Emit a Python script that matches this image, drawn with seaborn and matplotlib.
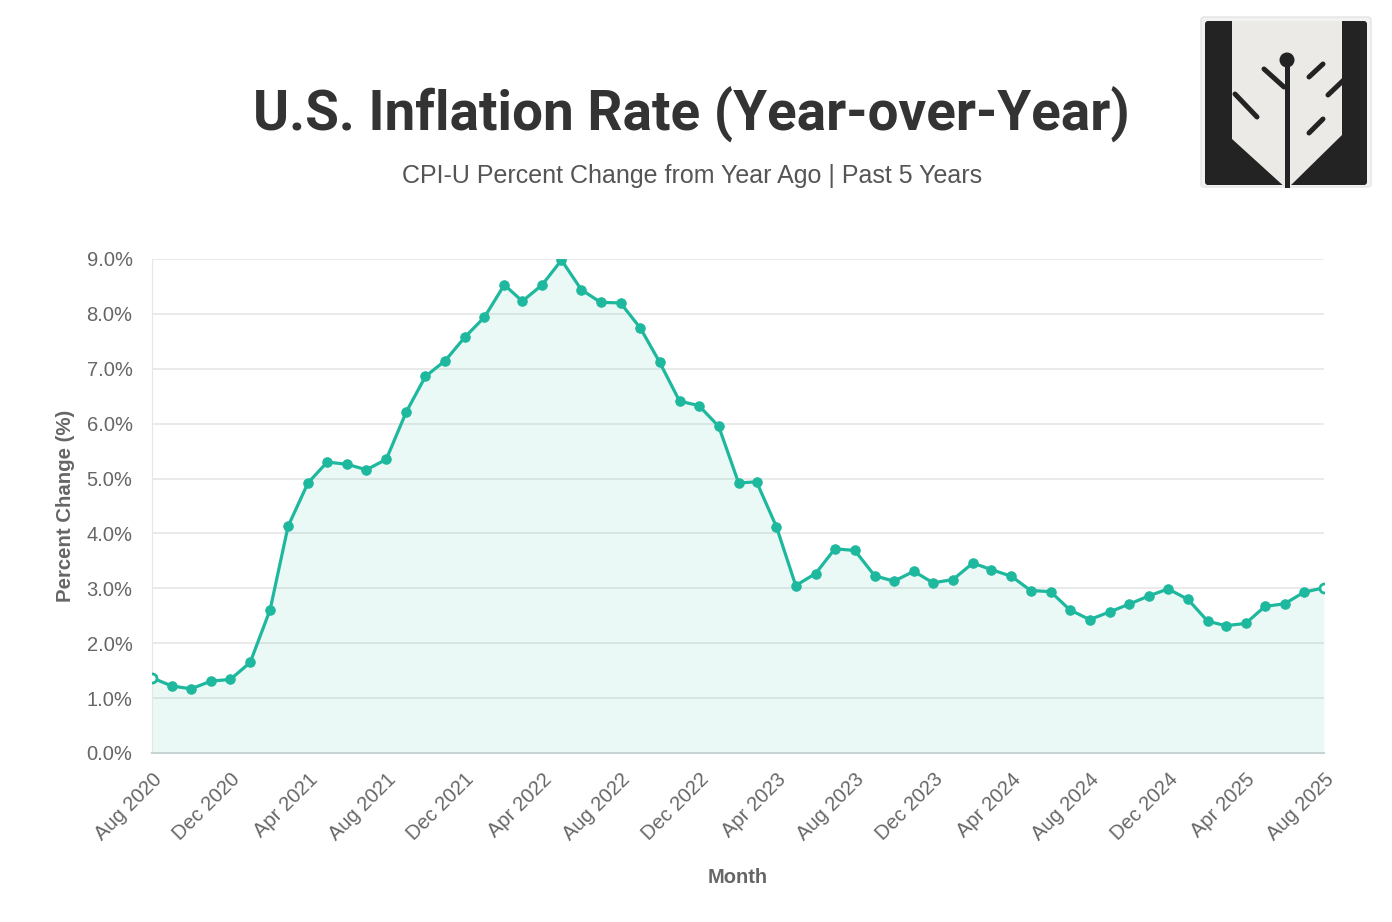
import pandas as pd
import matplotlib
matplotlib.use("Agg")
import matplotlib.pyplot as plt
import seaborn as sns
from matplotlib.patches import FancyBboxPatch, Polygon, Circle

# CPI-U year-over-year change, Aug 2020 .. Aug 2025 (monthly)
months = pd.date_range("2020-08-01", "2025-08-01", freq="MS")
cpi_yoy = [1.37, 1.22, 1.17, 1.31, 1.34, 1.65, 2.61, 4.13, 4.92, 5.30,
           5.26, 5.16, 5.35, 6.21, 6.86, 7.15, 7.57, 7.94, 8.53, 8.23,
           8.53, 8.98, 8.44, 8.21, 8.20, 7.74, 7.12, 6.41, 6.33, 5.95,
           4.92, 4.94, 4.12, 3.05, 3.27, 3.72, 3.69, 3.23, 3.13, 3.31,
           3.10, 3.16, 3.46, 3.34, 3.22, 2.96, 2.94, 2.61, 2.43, 2.57,
           2.71, 2.86, 2.99, 2.80, 2.40, 2.32, 2.36, 2.67, 2.72, 2.93,
           3.01]
y_ticks = [0, 1, 2, 3, 4, 5, 6, 7, 8, 9]

df = pd.DataFrame({"Month": months, "CPI": cpi_yoy})

teal = "#1db89d"
grey = "#666666"

sns.set_style("white")
plt.rcParams["font.family"] = ["Liberation Sans", "DejaVu Sans"]

fig = plt.figure(figsize=(13.92, 9.22), dpi=100)
ax = fig.add_axes([0.1092, 0.1833, 0.8419, 0.5358])

ax.fill_between(df["Month"], df["CPI"], 0, color=teal, alpha=0.09, lw=0, zorder=1)
sns.lineplot(data=df, x="Month", y="CPI", ax=ax, color=teal, lw=2.3,
             marker="o", markersize=6.8, markeredgecolor=teal, zorder=3)
ends = df.iloc[[0, -1]]
sns.scatterplot(data=ends, x="Month", y="CPI", ax=ax, s=42, color="white",
                edgecolor=teal, linewidth=2, zorder=4)

ax.set_xlim(months[0], months[-1])
ax.set_ylim(0, 9)
ax.set_yticks(y_ticks)
ax.set_yticklabels([f"{v:.1f}%" for v in y_ticks], color=grey, fontsize=14.5)
ax.set_xticks(months[::4])
ax.set_xticklabels([m.strftime("%b %Y") for m in months[::4]], rotation=45,
                   ha="right", rotation_mode="anchor", color=grey, fontsize=14.5)
ax.tick_params(axis="y", length=9, width=1.2, color="#e6e6e6", pad=5)
ax.tick_params(axis="x", length=0, pad=12)
ax.grid(axis="y", color="#e6e6e6", lw=1.2)
ax.set_axisbelow(True)
for s in ["top", "right"]:
    ax.spines[s].set_visible(False)
ax.spines["left"].set_color("#e6e6e6")
ax.spines["bottom"].set_color("#c8d4d4")
ax.spines["bottom"].set_linewidth(1.5)

ax.set_ylabel("Percent Change (%)", fontsize=14.7, fontweight="bold", color=grey, labelpad=8)
ax.set_xlabel("Month", fontsize=14.5, fontweight="bold", color=grey, labelpad=17)

fig.text(0.4965, 0.877, "U.S. Inflation Rate (Year-over-Year)", ha="center", va="center",
         fontsize=39.5, fontweight="bold", color="#333333", family=["Roboto", "DejaVu Sans"])
fig.text(0.4975, 0.809, "CPI-U Percent Change from Year Ago | Past 5 Years", ha="center",
         va="center", fontsize=18, color="#555555")

# logo, drawn in its own small axes (units: px inside the logo box)
lg = fig.add_axes([1200 / 1392, 1 - 188 / 922, 172 / 1392, 172 / 922])
lg.set_xlim(0, 172)
lg.set_ylim(172, 0)
lg.axis("off")
lg.add_patch(FancyBboxPatch((1, 1), 170, 170, boxstyle="round,pad=0,rounding_size=3",
                            fc="#f2f2f2", ec="#e4e4e4", lw=1))
lg.add_patch(FancyBboxPatch((5, 5), 162, 164, boxstyle="round,pad=0,rounding_size=3",
                            fc="#232323", ec="none"))
lg.add_patch(Polygon([(32, 5), (142, 5), (142, 119), (87, 173), (32, 123)],
                     closed=True, fc="#ebeae6", ec="none"))
dk = "#232323"
lg.plot([87, 87], [40, 172], color=dk, lw=3.6, solid_capstyle="round")
lg.add_patch(Circle((87, 44), 7.5, fc=dk, ec="none"))
for (x0, y0, x1, y1) in [(64, 53, 84, 71), (35, 78, 57, 101), (109, 61, 123, 48),
                         (128, 79, 150, 58), (109, 117, 123, 103)]:
    lg.plot([x0, x1], [y0, y1], color=dk, lw=3.6, solid_capstyle="round")

fig.savefig("out.png", dpi=100, facecolor="white")
